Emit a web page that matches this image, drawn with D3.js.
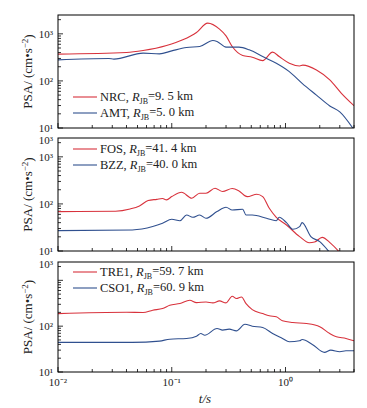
<!DOCTYPE html>
<html><head><meta charset="utf-8">
<script src="https://cdn.jsdelivr.net/npm/d3@7"></script>
<style>body{margin:0;background:#fff}svg{display:block}</style>
</head><body>
<script>
// ---- data ----
const periodsNRC = [0.01,0.04,0.056,0.09,0.125,0.165,0.207,0.263,0.30,0.34,0.42,0.51,0.63,0.77,0.88,1.08,1.33,1.42,1.87,2.45,3.1,4.0];
const valuesNRC  = [370,400,441,564,745,1070,1690,1260,906,537,347,319,270,408,329,238,208,216,171,105,54.7,29.8];
const periodsAMT = [0.01,0.028,0.031,0.056,0.078,0.10,0.135,0.176,0.23,0.25,0.30,0.39,0.48,0.63,0.83,1.08,1.4,1.87,2.45,3.0,3.9];
const valuesAMT  = [280,300,290,389,375,435,512,537,720,690,521,521,457,329,238,158,89,50,29.4,22,10];

const periodsFOS = [0.01,0.032,0.043,0.052,0.062,0.074,0.083,0.09,0.10,0.122,0.15,0.176,0.20,0.24,0.28,0.34,0.39,0.46,0.56,0.63,0.72,0.83,1.02,1.33,1.62,1.8,2.1,2.5,3.1];
const valuesFOS  = [68.7,70,78,90.6,118,125,130,122,143,177,132,169,169,215,183,212,189,143,161,143,81,52,35.7,20.2,15,15.5,19.5,14.5,8.5];
const periodsBZZ = [0.01,0.045,0.068,0.083,0.10,0.118,0.135,0.153,0.176,0.20,0.25,0.30,0.34,0.42,0.45,0.51,0.68,0.83,0.88,1.02,1.16,1.33,1.4,1.67,2.0,2.4];
const valuesBZZ  = [27.1,28,33,38.8,47.2,44,58.3,52,58,49.5,68.7,85,74,77,58,58,49.5,44,52,40,28.9,33,40,20.2,15.8,9.8];

const periodsTRE1 = [0.01,0.04,0.056,0.068,0.083,0.096,0.118,0.144,0.165,0.20,0.23,0.263,0.30,0.34,0.37,0.41,0.45,0.51,0.63,0.72,0.83,0.94,1.16,1.53,2.0,2.45,2.8,3.4,4.0];
const valuesTRE1  = [188,201,198,223,242,286,311,367,327,337,322,356,322,449,400,434,311,230,188,168,160,131,120,114,97,69,58.6,54,48];
const periodsCSO1 = [0.01,0.045,0.078,0.096,0.135,0.165,0.18,0.195,0.25,0.28,0.32,0.37,0.44,0.51,0.63,0.77,0.94,1.08,1.33,1.4,1.72,2.2,2.5,3.0,3.4,4.0];
const valuesCSO1  = [44.2,44.2,47.2,52,54,60.6,69,63.6,89,82,86,79,110,100,93.5,69,54,45.7,48,51,40,26.8,30,27.7,29,29];

const legendNames = [["NRC","AMT"],["FOS","BZZ"],["TRE1","CSO1"]];
const legendDist  = [["9. 5 km","5. 0 km"],["41. 4 km","40. 0 km"],["59. 7 km","60. 9 km"]];
const xTickLabels = ["10\u207B\u00B2","10\u207B\u00B9","10\u2070"];
const yTickLabels = ["10\u00B9","10\u00B2","10\u00B3"];

const panels = [
  {red:[periodsNRC,valuesNRC], blue:[periodsAMT,valuesAMT], top:15, bottom:128, legendY:97, topLabel:false, midLabel:true},
  {red:[periodsFOS,valuesFOS], blue:[periodsBZZ,valuesBZZ], top:138, bottom:251, legendY:149, topLabel:true, midLabel:true},
  {red:[periodsTRE1,valuesTRE1], blue:[periodsCSO1,valuesCSO1], top:262, bottom:372, legendY:272, topLabel:true, midLabel:false}
];

const W=367,H=408, left=58, right=354;
const RED="#d8323c", BLUE="#30508f";
const svg=d3.select("body").append("svg").attr("width",W).attr("height",H)
  .style("font-family","'Liberation Serif','Times New Roman',serif");

const x=d3.scaleLog().domain([0.01,4]).range([left,right]);

panels.forEach((p,i)=>{
  const y=d3.scaleLog().domain([10,Math.pow(10,3.4)]).range([p.bottom,p.top]);
  const g=svg.append("g");
  const xt=[];
  [0.01,0.1,1].forEach(d=>{for(let k=1;k<10;k++){const v=d*k; if(v<=4) xt.push(v);}});
  xt.forEach(v=>{
    const major=[0.01,0.1,1].includes(v);
    g.append("line").attr("x1",x(v)).attr("x2",x(v)).attr("y1",p.bottom).attr("y2",p.bottom-(major?5:3))
      .attr("stroke","#000").attr("stroke-width",0.8);
  });
  const yt=[];
  [10,100,1000].forEach(d=>{for(let k=1;k<10;k++){const v=d*k; if(v<=Math.pow(10,3.4)) yt.push(v);}});
  yt.forEach(v=>{
    const major=[10,100,1000].includes(v);
    g.append("line").attr("x1",left).attr("x2",left+(major?5:3)).attr("y1",y(v)).attr("y2",y(v))
      .attr("stroke","#000").attr("stroke-width",0.8);
  });
  const lab=(txt,yy)=>g.append("text").attr("x",left-5).attr("y",yy).attr("dy","0.35em")
      .attr("text-anchor","end").attr("font-size",11).attr("fill","#222").text(txt);
  lab(yTickLabels[0],y(10));
  lab(yTickLabels[1],y(100));
  if(p.midLabel) lab(yTickLabels[2],y(1000));
  if(p.topLabel) lab(yTickLabels[2],p.top+2);
  const line=d3.line().x(d=>x(d[0])).y(d=>y(d[1])).curve(d3.curveMonotoneX);
  const clipId="clip"+i;
  g.append("clipPath").attr("id",clipId).append("rect").attr("x",left).attr("y",p.top).attr("width",right-left).attr("height",p.bottom-p.top);
  [[p.red,RED],[p.blue,BLUE]].forEach(([s,c])=>{
    const pts=d3.zip(s[0],s[1]);
    g.append("path").attr("d",line(pts)).attr("fill","none").attr("stroke",c).attr("stroke-width",1.1)
      .attr("clip-path",`url(#${clipId})`);
  });
  g.append("rect").attr("x",left).attr("y",p.top).attr("width",right-left).attr("height",p.bottom-p.top)
    .attr("fill","none").attr("stroke","#000").attr("stroke-width",1);
  [RED,BLUE].forEach((c,j)=>{
    const ly=p.legendY+j*16;
    g.append("line").attr("x1",73).attr("x2",97).attr("y1",ly).attr("y2",ly).attr("stroke",c).attr("stroke-width",1.1);
    const t=g.append("text").attr("x",100).attr("y",ly).attr("dy","0.35em").attr("font-size",12.5).attr("fill","#222");
    t.append("tspan").text(legendNames[i][j]+", ");
    t.append("tspan").attr("font-style","italic").text("R");
    t.append("tspan").attr("font-size",8).attr("dy","0.3em").text("JB");
    t.append("tspan").attr("dy","-0.3em").text("=");
    t.append("tspan").text(legendDist[i][j]);
  });
  const cy=(p.top+p.bottom)/2;
  const yl=g.append("text").attr("transform",`translate(27,${cy}) rotate(-90)`).attr("text-anchor","middle")
    .attr("font-size",13).attr("dy","0.35em").attr("fill","#222");
  yl.append("tspan").text("PSA/ (cm\u2022s");
  yl.append("tspan").attr("font-size",9).attr("dy","-0.45em").text("\u22122");
  yl.append("tspan").attr("dy","0.45em").text(")");
});

[0.01,0.1,1].forEach((v,k)=>{
  svg.append("text").attr("x",x(v)).attr("y",386).attr("text-anchor","middle").attr("font-size",11).attr("fill","#222").text(xTickLabels[k]);
});
svg.append("text").attr("x",205).attr("y",403).attr("text-anchor","middle").attr("font-size",13)
  .attr("font-style","italic").attr("fill","#222").text("t/s");
</script>
</body></html>
